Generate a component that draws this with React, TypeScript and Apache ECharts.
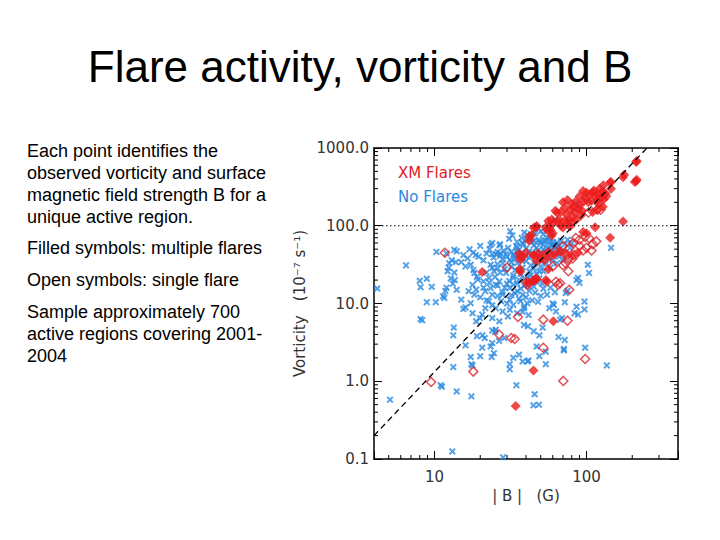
import React, { useEffect, useRef } from 'react';
import * as echarts from 'echarts';

const titleText = 'Flare activity, vorticity and B';
const noteLines = [
  'Each point identifies the',
  'observed vorticity and surface',
  'magnetic field strength B for a',
  'unique active region.',
  'Filled symbols: multiple flares',
  'Open symbols: single flare',
  'Sample approximately 700',
  'active regions covering 2001-',
  '2004',
];

const X_MIN = 4;
const X_MAX = 400;
const Y_MIN = 0.1;
const Y_MAX = 1000;

const xMinorTicks = [5, 6, 7, 8, 9, 20, 30, 40, 50, 60, 70, 80, 90, 200, 300];
const yMinorTicks = [
  0.2, 0.3, 0.4, 0.5, 0.6, 0.7, 0.8, 0.9,
  2, 3, 4, 5, 6, 7, 8, 9,
  20, 30, 40, 50, 60, 70, 80, 90,
  200, 300, 400, 500, 600, 700, 800, 900,
];

// |B| (G), vorticity (1e-7 s^-1)
const fitLine = [[4, 0.2], [250, 1000]];
const thresholdLine = [[4, 100], [400, 100]];

const noFlares = [
  [4.2, 15.6], [6.5, 31], [8.0, 19.6], [8.9, 20.8], [8.1, 16.2], [9.6, 16.4], [8.9, 10.4], [10.2, 10.4], [8.1, 6.3], [8.3, 6.1],
  [11.4, 12.4], [11.6, 11.8], [13.4, 4.9], [13.3, 3.9], [15.0, 11.2], [15.5, 8.5], [16.0, 8.9],
  [5.1, 0.58], [11.0, 0.89], [11.2, 0.85], [14.0, 0.74], [17.5, 0.64], [13.1, 0.125], [28.3, 0.105], [13.3, 1.52], [17.5, 1.66],
  [17.8, 1.6], [31.3, 1.66], [31.3, 1.43], [34.6, 0.89], [38, 1.8], [41, 1.8], [44.8, 0.49], [48.6, 0.5], [45.6, 0.68], [54, 1.66],
  [136, 1.6], [41.5, 1.85], [49, 2.1], [71, 2.5], [98, 2.7], [65.5, 3.7], [45, 4.4], [49, 3.9], [51.5, 4.9], [67, 6.2], [69, 6.5],
  [63, 7.9], [61, 9.6], [72, 10.4], [97, 10.6], [97, 8.4], [88, 7.2], [73, 13.6], [75, 14.6], [88, 21.3], [90, 18.4], [102, 31.5],
  [104, 24.7], [145, 52],
  [16, 2.9], [20.6, 2.7], [23.4, 2.8], [17.3, 2.05], [20, 2.1], [23.8, 2.05], [24.6, 2.3], [19, 3.8], [20.7, 3.9], [21.4, 3.6],
  [24, 4.5], [25, 4.3], [38.8, 5.3], [41.2, 5.1], [38, 7.8], [41.6, 7.1], [39, 9.2], [60, 10], [57, 8.7], [83.5, 7.5], [86, 9.1],
  [86, 20], [72, 3.4], [71, 2.6], [47, 2.8], [54, 2.4], [33, 2.0], [36, 2.2], [26.6, 3.3],
  [12.5, 33], [13.8, 34], [12.2, 26], [13.5, 25], [12.8, 21], [13.2, 18], [12.0, 16], [11.8, 14.5], [14.0, 15], [13.0, 36],
  [12.4, 29], [13.6, 20],
  [17.3, 31.5], [18.3, 24.7], [19.3, 20.3], [17.8, 17.4], [18.8, 15.1], [18.3, 13], [16.8, 14.4], [17.3, 10.1], [17.8, 7.5],
  [18.8, 5.9], [19.9, 6.5], [20.6, 7.2], [21.6, 8.7], [22.8, 10.7], [24, 13], [21.6, 14.4], [23.4, 15.8], [25.3, 17.4],
  [26.7, 19.3], [21, 19.3], [22.8, 21.3], [24.6, 26], [26, 28.5], [23.4, 31.5], [28.1, 33], [31.3, 36.5], [29.6, 24.7],
  [33, 21.3], [31.3, 15.8], [35, 14.4], [28.1, 13], [27.4, 10.7], [31.3, 11.2], [33, 9.6], [36.8, 10.7], [25.3, 8.7],
  [28.1, 7.9], [31.3, 8.3], [35, 7.5], [38.8, 8.7], [40.8, 10.1], [24, 6.5], [26.7, 5.9], [30.4, 6.8], [25.3, 4.6], [24, 3.1],
  [28.8, 3.6],
  [15.5, 42], [16.5, 38], [18, 45], [19.5, 40], [21, 36], [22, 44], [23, 50], [24.5, 39], [26, 46], [27, 41], [28.5, 48],
  [29.5, 43], [30.5, 52], [32, 46], [33.5, 40], [34.5, 55], [36, 49], [37, 44], [38.5, 58], [40, 51], [42, 47], [43.5, 62],
  [45, 56], [47, 52], [48.5, 66], [50, 60], [52, 57], [53, 64], [55, 70], [57, 61], [59, 55], [44, 70], [41, 75], [46, 80],
  [50, 85], [52, 78], [56, 88], [48, 93], [35, 62], [31, 68], [27, 58], [24, 60], [20, 55], [17, 50], [14, 47], [12, 44],
  [25, 22], [27, 25], [29, 28], [30, 18], [32, 30], [33, 23], [34, 27], [35, 33], [36, 20], [37, 24], [38, 29], [39, 17],
  [40, 35], [41, 22], [42, 26], [43, 31], [44, 19], [45, 28], [46, 33], [47, 24], [48, 37], [49, 21], [50, 30], [51, 35],
  [52, 26], [53, 41], [54, 32], [56, 38], [58, 29], [60, 36], [62, 44], [64, 33], [66, 40], [68, 47], [70, 37],
  [20, 12], [22, 11], [24, 9.5], [26, 12.5], [28, 14], [30, 10], [32, 12.8], [34, 13.5], [36, 11.5], [38, 13], [40, 12],
  [42, 14.5], [44, 11], [46, 13.8], [48, 10.5], [50, 12.5], [52, 15.5], [55, 13], [58, 16], [62, 14],
  [29, 16], [31, 19.5], [33, 17.5], [35, 18], [37, 15.5], [39, 21], [41, 17], [43, 23], [45, 16.5], [47, 19], [49, 26],
  [51, 18], [26, 17], [23, 18.5], [21, 16], [19, 22], [18, 27], [16, 30], [15, 34], [22, 25], [24, 29], [26, 32], [28, 37],
  [30, 40], [32, 34], [34, 38], [36, 42], [38, 36], [40, 41], [42, 39], [44, 45], [46, 43], [48, 48], [50, 45], [52, 50],
  [54, 47], [56, 53], [58, 49], [60, 58], [62, 52], [64, 61], [66, 55], [68, 64], [72, 58], [75, 66], [78, 52], [80, 60],
  [31.5, 85], [32.5, 75], [23.4, 57], [26.8, 56], [10.3, 46], [13.5, 49], [18.7, 42], [35, 52], [37.5, 70], [38, 60],
  [24, 43], [25.5, 43], [27, 44], [33, 43], [35, 47], [40, 66], [45, 64], [49, 62], [54, 65], [43, 78], [39, 82],
  [84, 195], [90, 178], [58, 105], [62, 120], [60, 62], [63, 54], [66, 50], [58, 72],
];

const xmMulti = [
  [212, 661], [214, 680], [177, 454], [174, 420], [212, 373], [208, 365], [214, 390], [145, 365], [143, 360], [129, 331], [145, 300],
  [95, 280], [100, 265], [105, 250], [110, 270], [115, 240], [120, 255], [125, 230], [130, 220], [98, 225], [108, 210],
  [118, 215], [103, 200], [112, 285], [122, 300], [128, 275], [133, 260], [135, 240], [90, 240], [96, 205],
  [70, 200], [75, 215], [80, 190], [85, 205], [90, 185], [72, 170], [78, 160], [84, 150], [88, 165], [94, 155], [74, 140],
  [81, 130], [86, 120], [92, 135], [68, 150], [76, 118], [82, 175],
  [62.4, 156], [64, 148],
  [65, 110], [68, 100], [72, 118], [75, 105], [78, 98], [80, 112], [70, 95], [66, 120],
  [57, 96], [58, 88], [60, 80], [59, 75], [54, 96], [55, 88],
  [46.5, 96], [45, 94], [47, 99], [43.5, 76], [42, 73], [95, 83], [114, 96], [174, 113], [143, 70], [100, 80], [56, 115],
  [59, 120], [60, 108],
  [42, 64], [36.7, 40], [36.7, 36.5], [20.6, 25.4], [36.3, 27.5], [36.7, 25.6], [40.4, 19], [41.6, 18.2], [44.6, 20],
  [46.5, 21], [54, 20], [55, 19], [56, 27.5], [45, 19.5], [47, 20.5], [47, 35], [50, 38], [53, 36], [58, 40], [45, 42],
  [40, 45], [38, 40], [60.5, 5.9], [34.2, 0.48], [44.8, 1.37],
  [36, 44], [45, 41], [48, 44], [52, 42], [56, 46], [62, 43], [67, 47], [72, 44], [80, 41], [88, 45],
  [120, 190], [128, 175], [118, 160], [110, 150],
];

const xmSingle = [
  [11.7, 45], [30, 29], [35.4, 6.7], [26.6, 4.0], [32, 3.6], [33.7, 3.5], [9.5, 0.98], [18, 1.33], [70.4, 1.01], [98, 1.93],
  [52, 2.7], [52, 6.2], [75, 6], [70, 31], [76, 26], [65, 17.5], [63, 19], [67, 18.2], [77, 15], [41, 17.3], [81, 38],
  [83, 42], [73, 33], [85, 69.5], [116, 63], [77, 51.7], [73, 42], [98, 72], [104, 69], [124, 161], [118, 162], [103, 148],
  [90, 55], [110, 58], [95, 48], [76, 37], [62, 47], [60, 30], [70, 55], [82, 60], [90, 66], [100, 52], [108, 48],
];

const isDecade = (v: number) => {
  const l = Math.log10(v);
  return Math.abs(l - Math.round(l)) < 1e-6;
};

const crossPath = 'path://M0,2 L2,0 L5,3 L8,0 L10,2 L7,5 L10,8 L8,10 L5,7 L2,10 L0,8 L3,5 Z';

export default function App() {
  const ref = useRef<HTMLDivElement>(null);

  useEffect(() => {
    const chart = echarts.init(ref.current as HTMLDivElement, null, { renderer: 'svg' });
    const tickFont = 'DejaVu Sans';
    const frameLine = { show: true, onZero: false, lineStyle: { color: '#000', width: 1.5 } };
    const majorTick = { show: true, inside: true, length: 8, lineStyle: { color: '#000', width: 1 } };
    const noteY = [151, 173, 195, 217, 248, 280, 312, 334, 356];

    const minorTickSeries = (values: number[], horizontal: boolean) => ({
      type: 'custom',
      silent: true,
      clip: false,
      z: 6,
      xAxisIndex: 0,
      yAxisIndex: 0,
      data: values.map((v) => (horizontal ? [v, 1] : [10, v])),
      renderItem: (_params: any, api: any) => {
        const line = (x1: number, y1: number, x2: number, y2: number) => ({
          type: 'line',
          shape: { x1, y1, x2, y2 },
          style: { stroke: '#000', lineWidth: 1 },
        });
        if (horizontal) {
          const v = api.value(0);
          const b = api.coord([v, Y_MIN]);
          const t = api.coord([v, Y_MAX]);
          return { type: 'group', children: [line(b[0], b[1], b[0], b[1] - 4), line(t[0], t[1], t[0], t[1] + 4)] };
        }
        const v = api.value(1);
        const l = api.coord([X_MIN, v]);
        const r = api.coord([X_MAX, v]);
        return { type: 'group', children: [line(l[0], l[1], l[0] + 4, l[1]), line(r[0], r[1], r[0] - 4, r[1])] };
      },
    });

    chart.setOption({
      animation: false,
      backgroundColor: '#fff',
      title: {
        text: titleText,
        left: 'center',
        top: 44,
        padding: 0,
        textStyle: { fontSize: 44, fontWeight: 'normal', fontFamily: 'Liberation Sans', color: '#000' },
      },
      graphic: noteLines.map((t, i) => ({
        type: 'text',
        x: 27,
        y: noteY[i],
        style: { text: t, fill: '#000', font: '18px "Liberation Sans"', verticalAlign: 'middle' },
      })),
      legend: {
        orient: 'vertical',
        left: 387,
        top: 160,
        itemGap: 9,
        itemWidth: 0,
        itemHeight: 0,
        icon: 'rect',
        selectedMode: false,
        textStyle: { fontSize: 15, fontFamily: tickFont },
        data: [
          { name: 'XM Flares', textStyle: { color: '#e42028' } },
          { name: 'No Flares', textStyle: { color: '#2a8ae0' } },
        ],
      },
      grid: { left: 374, right: 42, top: 148, bottom: 81, containLabel: false },
      xAxis: [
        {
          type: 'log',
          logBase: 10,
          min: X_MIN,
          max: X_MAX,
          position: 'bottom',
          name: '| B |   (G)',
          nameLocation: 'middle',
          nameGap: 28,
          nameTextStyle: { fontSize: 15, fontFamily: tickFont, color: '#333' },
          axisLine: frameLine,
          axisTick: majorTick,
          axisLabel: {
            margin: 10,
            fontSize: 15,
            fontFamily: tickFont,
            color: '#333',
            formatter: (v: number) => (isDecade(v) && v > 5 && v < 300 ? String(Math.round(v)) : ''),
          },
          splitLine: { show: false },
        },
        {
          type: 'log',
          logBase: 10,
          min: X_MIN,
          max: X_MAX,
          position: 'top',
          axisLine: frameLine,
          axisTick: majorTick,
          axisLabel: { show: false },
          splitLine: { show: false },
        },
      ],
      yAxis: [
        {
          type: 'log',
          logBase: 10,
          min: Y_MIN,
          max: Y_MAX,
          position: 'left',
          name: 'Vorticity   (10⁻⁷ s⁻¹)',
          nameLocation: 'middle',
          nameRotate: 90,
          nameGap: 67,
          nameTextStyle: { fontSize: 15, fontFamily: tickFont, color: '#333' },
          axisLine: frameLine,
          axisTick: majorTick,
          axisLabel: {
            margin: 5,
            fontSize: 15,
            fontFamily: tickFont,
            color: '#333',
            formatter: (v: number) => (isDecade(v) ? v.toFixed(1) : ''),
          },
          splitLine: { show: false },
        },
        {
          type: 'log',
          logBase: 10,
          min: Y_MIN,
          max: Y_MAX,
          position: 'right',
          axisLine: frameLine,
          axisTick: majorTick,
          axisLabel: { show: false },
          splitLine: { show: false },
        },
      ],
      series: [
        {
          name: 'No Flares',
          type: 'scatter',
          data: noFlares,
          symbol: crossPath,
          symbolSize: 7,
          itemStyle: { color: '#2a8ae0' },
          silent: true,
          z: 3,
        },
        {
          name: 'XM Flares',
          type: 'scatter',
          data: xmSingle,
          symbol: 'diamond',
          symbolSize: 9,
          itemStyle: { color: 'rgba(255,255,255,0)', borderColor: '#d8262e', borderWidth: 1.5 },
          silent: true,
          z: 4,
        },
        {
          name: 'XM Flares',
          type: 'scatter',
          data: xmMulti,
          symbol: 'diamond',
          symbolSize: 10,
          itemStyle: { color: '#ee1c1c' },
          silent: true,
          z: 5,
        },
        {
          type: 'line',
          data: thresholdLine,
          showSymbol: false,
          symbol: 'none',
          silent: true,
          lineStyle: { color: '#000', width: 1.2, type: [1.5, 2.5] },
          z: 6,
        },
        {
          type: 'line',
          data: fitLine,
          showSymbol: false,
          symbol: 'none',
          silent: true,
          lineStyle: { color: '#000', width: 1.3, type: [6, 4] },
          z: 6,
        },
        minorTickSeries(xMinorTicks, true),
        minorTickSeries(yMinorTicks, false),
      ],
    });

    return () => chart.dispose();
  }, []);

  return (
    <div
      ref={ref}
      style={{ position: 'fixed', left: 0, top: 0, width: 720, height: 540, background: '#fff' }}
    />
  );
}
